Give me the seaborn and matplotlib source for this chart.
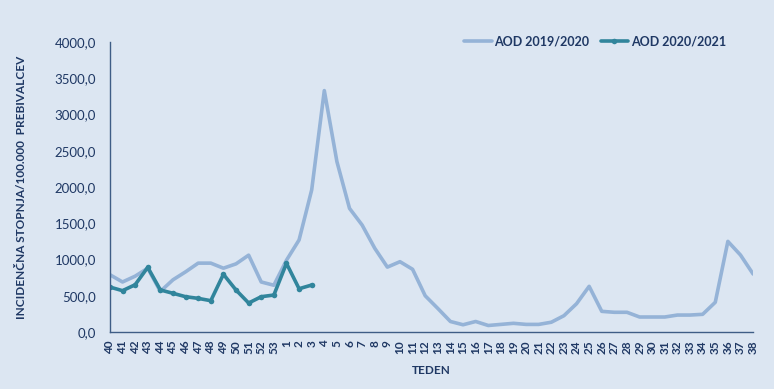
import numpy as np
import pandas as pd
import matplotlib
matplotlib.use("Agg")
import matplotlib.pyplot as plt
import seaborn as sns
from matplotlib.ticker import FuncFormatter

weeks = [str(w) for w in list(range(40, 54)) + list(range(1, 39))]

aod_2019 = [790, 690, 770, 880, 560, 720, 830, 950, 950, 880, 940, 1060, 690, 645,
            990, 1270, 1960, 3330, 2350, 1705, 1475, 1155, 895, 970, 865, 500, 325,
            145, 100, 145, 90, 105, 120, 105, 105, 135, 225, 390, 630, 285, 272, 272,
            207, 207, 207, 234, 234, 244, 410, 1250, 1062, 800]

aod_2020 = [620, 570, 652, 892, 580, 534, 487, 464, 432, 796, 579, 400, 487, 510,
            947, 597, 648]

df = pd.DataFrame({"week": range(len(weeks)), "value": aod_2019, "season": "AOD 2019/2020"})
df2 = pd.DataFrame({"week": range(len(aod_2020)), "value": aod_2020, "season": "AOD 2020/2021"})

bg = "#dce6f2"
navy = "#1f3864"
spine = "#3e5d86"

sns.set_style("white")
plt.rcParams["font.family"] = ["Lato", "DejaVu Sans"]

fig = plt.figure(figsize=(7.74, 3.89), dpi=100, facecolor=bg)
ax = fig.add_axes([0.142, 0.1465, 0.831, 0.7455])
ax.set_facecolor(bg)

sns.lineplot(data=df, x="week", y="value", ax=ax, color="#95b3d7", linewidth=2.6,
             label="AOD 2019/2020")
sns.lineplot(data=df2, x="week", y="value", ax=ax, color="#31859c", linewidth=2.6,
             marker="o", markersize=4, markeredgewidth=0, label="AOD 2020/2021")

ax.set_xlim(0, len(weeks) - 1)
ax.set_ylim(0, 4000)
ax.set_yticks(np.arange(0, 4001, 500))
ax.yaxis.set_major_formatter(FuncFormatter(lambda v, p: f"{v:.1f}".replace(".", ",")))
ax.set_xticks(range(len(weeks)))
ax.set_xticklabels(weeks, rotation=90, fontweight="bold", fontsize=8.5, color=navy)

for lbl in ax.get_yticklabels():
    lbl.set_color(navy)
    lbl.set_fontsize(9.5)

for s in ["top", "right"]:
    ax.spines[s].set_visible(False)
for s in ["left", "bottom"]:
    ax.spines[s].set_color(spine)
    ax.spines[s].set_linewidth(1)

ax.tick_params(axis="x", direction="out", length=4, width=1, color=spine, pad=2)
ax.tick_params(axis="y", direction="out", length=4, width=1, color=spine, pad=6)

ax.set_xlabel("TEDEN", fontweight="bold", fontsize=8.5, color=navy, labelpad=8)
ax.set_ylabel("INCIDENČNA STOPNJA/100.000  PREBIVALCEV", fontweight="bold",
              fontsize=8.5, color=navy, labelpad=20)

leg = ax.legend(loc="upper right", bbox_to_anchor=(0.975, 1.06), ncol=2, frameon=False,
                fontsize=9, handlelength=2.2, columnspacing=0.9, handletextpad=0.2)
for t in leg.get_texts():
    t.set_color(navy)
    t.set_fontweight("bold")

fig.savefig("out.png", dpi=100, facecolor=bg)
